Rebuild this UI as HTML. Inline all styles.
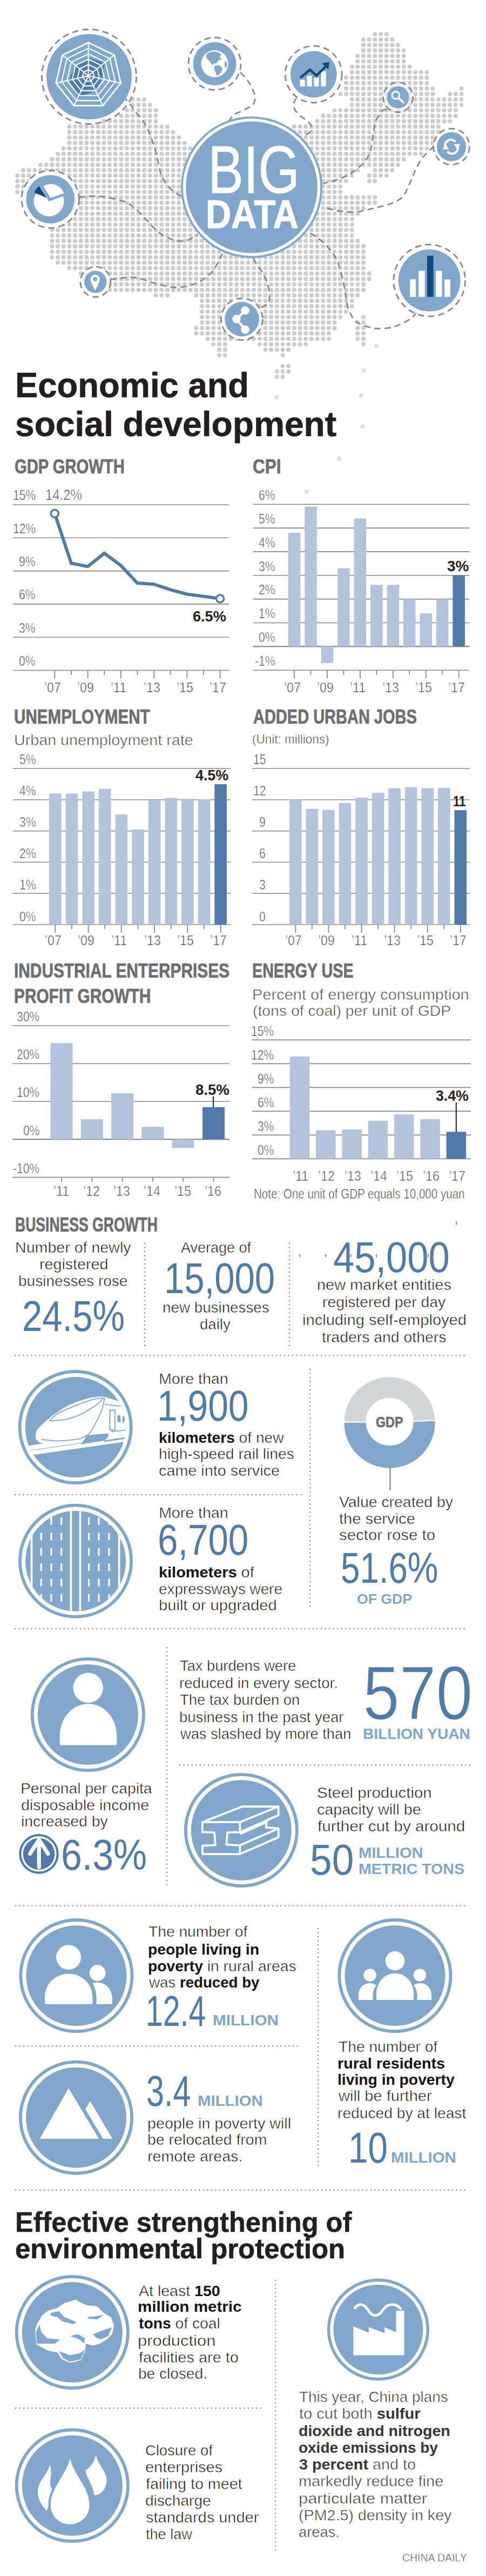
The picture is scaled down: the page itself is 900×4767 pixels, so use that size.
<!DOCTYPE html>
<html><head><meta charset="utf-8"><title>Big Data</title>
<style>
html,body{margin:0;padding:0;background:#fff}
body{width:900px;height:4767px;position:relative;overflow:hidden;font-family:"Liberation Sans",sans-serif}
svg{position:absolute;left:0;top:0}
.t{position:absolute;white-space:nowrap;line-height:1;transform-origin:0 0}
.t b{font-weight:700;-webkit-text-stroke:0 transparent}
</style></head><body>
<svg width="900" height="4767" viewBox="0 0 900 4767">
<path d="M694.4 63.1h21.42M673.0 73.2h53.46M673.0 83.2h64.14M673.0 93.3h74.82M662.3 103.4h85.50M662.3 113.4h85.50M651.6 123.5h106.86M651.6 133.6h138.90M641.0 143.7h149.58M641.0 153.7h149.58M641.0 163.8h160.26M854.6 163.8h0.06M630.3 173.9h170.94M833.2 173.9h21.42M245.8 183.9h21.42M651.6 183.9h202.98M245.8 194.0h32.10M651.6 194.0h202.98M235.1 204.1h53.46M619.6 204.1h224.34M224.4 214.2h64.14M598.2 214.2h245.70M192.4 224.2h96.18M587.6 224.2h245.70M128.3 234.3h181.62M544.8 234.3h267.06M128.3 244.4h192.30M544.8 244.4h267.06M128.3 254.4h202.98M544.8 254.4h256.38M128.3 264.5h213.66M544.8 264.5h256.38M117.6 274.6h235.02M544.8 274.6h245.70M107.0 284.6h288.42M544.8 284.6h235.02M96.3 294.7h341.82M544.8 294.7h202.98M74.9 304.8h662.22M42.9 314.9h619.50M694.4 314.9h32.10M32.2 324.9h619.50M683.7 324.9h32.10M32.2 335.0h608.82M683.7 335.0h10.74M32.2 345.1h598.14M32.2 355.1h598.14M96.3 365.2h598.14M96.3 375.3h598.14M96.3 385.3h576.78M96.3 395.4h566.10M96.3 405.5h555.42M96.3 415.6h555.42M96.3 425.6h555.42M96.3 435.7h555.42M96.3 445.8h566.10M96.3 455.8h576.78M96.3 465.9h576.78M96.3 476.0h576.78M107.0 486.0h566.10M128.3 496.1h544.74M149.7 506.2h534.06M203.1 516.2h480.66M203.1 526.3h469.98M203.1 536.4h469.98M288.5 546.5h21.42M363.3 546.5h299.10M374.0 556.5h277.74M374.0 566.6h277.74M374.0 576.7h267.06M374.0 586.7h256.38M673.0 586.7h0.06M374.0 596.8h245.70M662.3 596.8h10.74M363.3 606.9h256.38M662.3 606.9h10.74M363.3 617.0h245.70M662.3 617.0h10.74M384.6 627.0h224.34M662.3 627.0h10.74M395.3 637.1h21.42M480.8 637.1h85.50M673.0 637.1h0.06M406.0 647.2h10.74M491.4 647.2h42.78M406.0 657.2h10.74M523.5 657.2h0.06M523.5 677.4h10.74M512.8 687.4h21.42M512.8 697.5h10.74" fill="none" stroke="#cbcbce" stroke-width="7.9" stroke-linecap="round" stroke-dasharray="0.01 10.670"/>
<circle cx="697.0" cy="640.0" r="4" fill="#dedee0"/>
<circle cx="673.6" cy="685.7" r="4" fill="#dedee0"/>
<circle cx="668.6" cy="731.6" r="4" fill="#dedee0"/>
<circle cx="512.0" cy="735.0" r="4" fill="#dedee0"/>
<circle cx="671.6" cy="789.4" r="4" fill="#dedee0"/>
<circle cx="628.0" cy="848.6" r="4" fill="#dedee0"/>
<circle cx="568.0" cy="910.0" r="4" fill="#dedee0"/>
<circle cx="628.4" cy="849.5" r="4" fill="#dedee0"/>
<circle cx="567.7" cy="910.0" r="4" fill="#dedee0"/>
<path d="M228.0 178.0C230.0 180.3 235.8 186.8 240.0 192.0C244.2 197.2 248.3 202.8 253.0 209.0C257.7 215.2 263.8 222.2 268.0 229.0C272.2 235.8 274.7 241.7 278.0 250.0C281.3 258.3 285.5 270.5 288.0 279.0C290.5 287.5 291.3 293.8 293.0 301.0C294.7 308.2 295.5 315.5 298.0 322.0C300.5 328.5 304.0 334.5 308.0 340.0C312.0 345.5 317.0 351.0 322.0 355.0C327.0 359.0 335.3 362.5 338.0 364.0" fill="none" stroke="#86888b" stroke-width="2.8" stroke-dasharray="11.5 7.5"/>
<path d="M146.0 365.0C150.0 364.7 162.5 363.2 170.0 363.0C177.5 362.8 181.0 362.3 191.0 364.0C201.0 365.7 220.5 369.7 230.0 373.0C239.5 376.3 241.8 379.2 248.0 384.0C254.2 388.8 261.5 396.3 267.0 402.0C272.5 407.7 275.8 412.8 281.0 418.0C286.2 423.2 292.2 429.0 298.0 433.0C303.8 437.0 310.7 439.8 316.0 442.0C321.3 444.2 324.7 445.7 330.0 446.0C335.3 446.3 342.0 445.8 348.0 444.0C354.0 442.2 363.0 436.5 366.0 435.0" fill="none" stroke="#86888b" stroke-width="2.8" stroke-dasharray="11.5 7.5"/>
<path d="M204.0 517.0C208.3 516.5 221.8 514.5 230.0 514.0C238.2 513.5 243.0 512.2 253.0 514.0C263.0 515.8 277.7 522.0 290.0 525.0C302.3 528.0 314.7 532.2 327.0 532.0C339.3 531.8 353.7 528.2 364.0 524.0C374.3 519.8 382.7 512.8 389.0 507.0C395.3 501.2 398.2 495.2 402.0 489.0C405.8 482.8 410.3 473.2 412.0 470.0" fill="none" stroke="#86888b" stroke-width="2.8" stroke-dasharray="11.5 7.5"/>
<path d="M469.0 478.0C470.2 480.0 473.5 486.2 476.0 490.0C478.5 493.8 481.0 495.8 484.0 501.0C487.0 506.2 491.5 514.0 494.0 521.0C496.5 528.0 498.5 536.5 499.0 543.0C499.5 549.5 499.5 555.7 497.0 560.0C494.5 564.3 486.2 567.5 484.0 569.0" fill="none" stroke="#86888b" stroke-width="2.8" stroke-dasharray="11.5 7.5"/>
<path d="M445.0 134.0C447.2 136.3 454.0 142.3 458.0 148.0C462.0 153.7 466.7 162.7 469.0 168.0C471.3 173.3 472.0 175.8 472.0 180.0C472.0 184.2 472.2 189.2 469.0 193.0C465.8 196.8 458.8 199.8 453.0 203.0C447.2 206.2 438.8 208.5 434.0 212.0C429.2 215.5 425.7 222.0 424.0 224.0" fill="none" stroke="#86888b" stroke-width="2.8" stroke-dasharray="11.5 7.5"/>
<path d="M549.0 181.0C548.2 182.8 544.5 188.3 544.0 192.0C543.5 195.7 544.0 199.3 546.0 203.0C548.0 206.7 552.2 210.5 556.0 214.0C559.8 217.5 565.7 221.0 569.0 224.0C572.3 227.0 574.8 229.0 576.0 232.0C577.2 235.0 577.3 239.2 576.0 242.0C574.7 244.8 570.3 247.2 568.0 249.0C565.7 250.8 563.0 252.3 562.0 253.0" fill="none" stroke="#86888b" stroke-width="2.8" stroke-dasharray="11.5 7.5"/>
<path d="M716.0 203.0C714.7 203.3 711.3 201.5 708.0 205.0C704.7 208.5 698.8 216.7 696.0 224.0C693.2 231.3 692.7 239.8 691.0 249.0C689.3 258.2 688.5 270.8 686.0 279.0C683.5 287.2 681.3 291.5 676.0 298.0C670.7 304.5 661.8 312.5 654.0 318.0C646.2 323.5 637.3 327.7 629.0 331.0C620.7 334.3 609.2 336.5 604.0 338.0C598.8 339.5 599.0 339.7 598.0 340.0" fill="none" stroke="#86888b" stroke-width="2.8" stroke-dasharray="11.5 7.5"/>
<path d="M804.0 270.0C803.2 270.8 802.5 271.5 799.0 275.0C795.5 278.5 787.7 285.0 783.0 291.0C778.3 297.0 774.0 305.3 771.0 311.0C768.0 316.7 767.3 319.7 765.0 325.0C762.7 330.3 760.3 336.3 757.0 343.0C753.7 349.7 750.7 359.3 745.0 365.0C739.3 370.7 731.7 373.7 723.0 377.0C714.3 380.3 703.7 382.5 693.0 385.0C682.3 387.5 670.5 391.2 659.0 392.0C647.5 392.8 633.8 391.5 624.0 390.0C614.2 388.5 604.0 384.2 600.0 383.0" fill="none" stroke="#86888b" stroke-width="2.8" stroke-dasharray="11.5 7.5"/>
<path d="M772.0 578.0C769.5 580.3 764.3 587.5 757.0 592.0C749.7 596.5 737.8 602.3 728.0 605.0C718.2 607.7 707.2 608.5 698.0 608.0C688.8 607.5 680.0 604.7 673.0 602.0C666.0 599.3 660.8 597.7 656.0 592.0C651.2 586.3 646.8 577.0 644.0 568.0C641.2 559.0 641.2 548.8 639.0 538.0C636.8 527.2 634.0 513.3 631.0 503.0C628.0 492.7 625.5 484.2 621.0 476.0C616.5 467.8 610.2 460.5 604.0 454.0C597.8 447.5 589.5 441.0 584.0 437.0C578.5 433.0 573.2 431.2 571.0 430.0" fill="none" stroke="#86888b" stroke-width="2.8" stroke-dasharray="11.5 7.5"/>
<circle cx="466" cy="346.6" r="129.1" fill="#fff" stroke="#80a6cc" stroke-width="3.8"/>
<circle cx="466" cy="346.6" r="121.8" fill="#80a6cc"/>
<circle cx="165.0" cy="142.0" r="87.5" fill="#fff" fill-opacity="0.00" stroke="#86888b" stroke-width="2.8" stroke-dasharray="11.5 7.5"/>
<circle cx="165.0" cy="142.0" r="79.0" fill="#80a6cc"/>
<polygon points="163.7,106.4 193.5,116.5 188.8,145.9 177.0,167.9 144.5,180.0 127.8,148.4 139.7,121.1" fill="#4f7aaa"/>
<polygon points="163.7,78.8 211.7,101.9 223.6,153.9 190.3,195.5 137.1,195.5 103.8,153.9 115.7,101.9" fill="none" stroke="#fff" stroke-width="2.8"/>
<polygon points="163.7,89.2 203.5,108.4 213.4,151.5 185.8,186.1 141.6,186.1 114.0,151.5 123.9,108.4" fill="none" stroke="#fff" stroke-width="2.1"/>
<polygon points="163.7,99.7 195.4,114.9 203.2,149.2 181.3,176.7 146.1,176.7 124.2,149.2 132.0,114.9" fill="none" stroke="#fff" stroke-width="2.1"/>
<polygon points="163.7,109.5 187.7,121.1 193.6,147.0 177.0,167.9 150.4,167.9 133.8,147.0 139.7,121.1" fill="none" stroke="#fff" stroke-width="2.1"/>
<polygon points="163.7,119.3 180.0,127.2 184.1,144.8 172.8,159.0 154.6,159.0 143.3,144.8 147.4,127.2" fill="none" stroke="#fff" stroke-width="2.1"/>
<polygon points="163.7,129.1 172.3,133.3 174.5,142.7 168.5,150.2 158.9,150.2 152.9,142.7 155.1,133.3" fill="none" stroke="#fff" stroke-width="2.1"/>
<line x1="163.7" y1="140.2" x2="163.7" y2="78.8" stroke="#fff" stroke-width="2.1"/>
<line x1="163.7" y1="140.2" x2="211.7" y2="101.9" stroke="#fff" stroke-width="2.1"/>
<line x1="163.7" y1="140.2" x2="223.6" y2="153.9" stroke="#fff" stroke-width="2.1"/>
<line x1="163.7" y1="140.2" x2="190.3" y2="195.5" stroke="#fff" stroke-width="2.1"/>
<line x1="163.7" y1="140.2" x2="137.1" y2="195.5" stroke="#fff" stroke-width="2.1"/>
<line x1="163.7" y1="140.2" x2="103.8" y2="153.9" stroke="#fff" stroke-width="2.1"/>
<line x1="163.7" y1="140.2" x2="115.7" y2="101.9" stroke="#fff" stroke-width="2.1"/>
<circle cx="397.5" cy="118.0" r="48.5" fill="#fff" fill-opacity="0.00" stroke="#86888b" stroke-width="2.8" stroke-dasharray="11.5 7.5"/>
<circle cx="397.5" cy="118.0" r="40.0" fill="#80a6cc"/>
<circle cx="397.5" cy="118" r="25" fill="#fff"/>
<polygon points="381.1,102.6 385.6,98.1 391.1,95.9 398.5,95.2 404.1,96.7 410.0,101.1 406.7,104.1 408.5,107.8 410.7,111.5 405.9,110.7 402.6,113.7 400.4,118.1 396.7,116.7 393.7,120.4 390.0,115.9 385.6,111.1 382.6,107.4" fill="#80a6cc"/>
<polygon points="396.7,122.6 402.6,120.4 407.8,121.9 412.2,126.3 410.0,133.0 405.6,137.4 401.9,141.1 399.6,134.4 397.0,128.5" fill="#80a6cc"/>
<polygon points="416.7,112.2 420.4,115.9 420.0,122.6 417.4,125.6 415.6,120.4" fill="#80a6cc"/>
<circle cx="580.7" cy="137.5" r="52.5" fill="#fff" fill-opacity="0.90" stroke="#86888b" stroke-width="2.8" stroke-dasharray="11.5 7.5"/>
<circle cx="580.7" cy="137.5" r="43.0" fill="#80a6cc"/>
<rect x="555.5" y="147.5" width="9.0" height="12.5" fill="#fff"/>
<rect x="568.5" y="140.0" width="9.0" height="20.0" fill="#fff"/>
<rect x="581.5" y="144.0" width="9.0" height="16.0" fill="#fff"/>
<rect x="594.5" y="132.0" width="9.2" height="28.0" fill="#fff"/>
<path d="M556 144L574 129L586 140L603 123" fill="none" stroke="#0f4a7f" stroke-width="4.5"/>
<path d="M596 117L610 115L608 129z" fill="#0f4a7f"/>
<circle cx="737.0" cy="180.0" r="27.5" fill="#fff" fill-opacity="0.50" stroke="#86888b" stroke-width="2.8" stroke-dasharray="11.5 7.5"/>
<circle cx="737.0" cy="180.0" r="20.6" fill="#80a6cc"/>
<circle cx="732.8" cy="176.3" r="6.8" fill="none" stroke="#fff" stroke-width="3"/>
<line x1="738" y1="181.5" x2="747" y2="189.5" stroke="#fff" stroke-width="4" stroke-linecap="round"/>
<circle cx="836.0" cy="271.4" r="33.4" fill="#fff" fill-opacity="0.80" stroke="#86888b" stroke-width="2.8" stroke-dasharray="11.5 7.5"/>
<circle cx="836.0" cy="271.4" r="27.0" fill="#80a6cc"/>
<path d="M825.5 275a11 11 0 0 1 18-12.5" fill="none" stroke="#fff" stroke-width="4"/>
<path d="M846.5 268a11 11 0 0 1-18 12.5" fill="none" stroke="#fff" stroke-width="4"/>
<path d="M819.5 276.5l6-9.5 6 9.5z" fill="#fff"/>
<path d="M852.5 266.5l-6 9.5-6-9.5z" fill="#fff"/>
<circle cx="93.3" cy="368.7" r="53.2" fill="#fff" fill-opacity="0.92" stroke="#86888b" stroke-width="2.8" stroke-dasharray="11.5 7.5"/>
<circle cx="93.3" cy="368.7" r="44.8" fill="#80a6cc"/>
<path d="M90.5 372.5L116.9 363.2A28 28 0 1 1 76.4 348.3z" fill="#fff"/>
<path d="M93.5 366.5L80.3 344.5A26 26 0 0 1 118.6 357.6z" fill="#fff"/>
<path d="M86.5 366L63.5 356.5A25 25 0 0 1 72.5 344.5z" fill="#0f4a7f"/>
<circle cx="176.8" cy="521.6" r="28.0" fill="#fff" fill-opacity="0.70" stroke="#86888b" stroke-width="2.8" stroke-dasharray="11.5 7.5"/>
<circle cx="176.8" cy="521.6" r="20.7" fill="#80a6cc"/>
<path d="M176.2 537.5C172 529 167.6 522 167.6 516.8a8.6 8.6 0 0 1 17.2 0C184.8 522 180.4 529 176.2 537.5z" fill="#fff"/>
<circle cx="176.2" cy="516.6" r="4" fill="#80a6cc"/>
<circle cx="448.0" cy="590.6" r="38.5" fill="#fff" fill-opacity="0.92" stroke="#86888b" stroke-width="2.8" stroke-dasharray="11.5 7.5"/>
<circle cx="448.0" cy="590.6" r="31.8" fill="#80a6cc"/>
<path d="M454 574.6L438 590.4L454 610" fill="none" stroke="#fff" stroke-width="4"/>
<circle cx="454.0" cy="574.6" r="7.8" fill="#fff"/>
<circle cx="438.0" cy="590.4" r="7.8" fill="#fff"/>
<circle cx="454.0" cy="610.0" r="7.8" fill="#fff"/>
<circle cx="795.2" cy="519.0" r="66.3" fill="#fff" fill-opacity="0.55" stroke="#86888b" stroke-width="2.8" stroke-dasharray="11.5 7.5"/>
<circle cx="795.2" cy="519.0" r="57.4" fill="#80a6cc"/>
<rect x="759.3" y="516.7" width="10.7" height="32.6" fill="#fff"/>
<rect x="775.2" y="501.0" width="11.5" height="48.3" fill="#fff"/>
<rect x="791.0" y="473.3" width="11.6" height="76.0" fill="#0f4a7f"/>
<rect x="807.0" y="501.0" width="11.5" height="48.3" fill="#fff"/>
<rect x="823.0" y="517.0" width="11.0" height="32.3" fill="#fff"/>
<line x1="23.8" y1="934.0" x2="424.0" y2="934.0" stroke="#85878a" stroke-width="1.6"/>
<line x1="23.8" y1="995.3" x2="424.0" y2="995.3" stroke="#85878a" stroke-width="1.6"/>
<line x1="23.8" y1="1056.6" x2="424.0" y2="1056.6" stroke="#85878a" stroke-width="1.6"/>
<line x1="23.8" y1="1117.9" x2="424.0" y2="1117.9" stroke="#85878a" stroke-width="1.6"/>
<line x1="23.8" y1="1179.2" x2="424.0" y2="1179.2" stroke="#85878a" stroke-width="1.6"/>
<line x1="23.8" y1="1240.5" x2="424.0" y2="1240.5" stroke="#85878a" stroke-width="1.6"/>
<polyline points="101.3,950.3 131.9,1042.3 162.6,1048.4 193.2,1023.9 223.8,1046.4 254.4,1079.1 285.1,1081.1 315.7,1091.3 346.3,1099.5 377.0,1103.6 407.6,1107.7" fill="none" stroke="#4f7aaa" stroke-width="6" stroke-linejoin="miter"/>
<circle cx="101.3" cy="950.3" r="7" fill="#fff" stroke="#4f7aaa" stroke-width="3.5"/>
<circle cx="407.6" cy="1107.7" r="7" fill="#fff" stroke="#4f7aaa" stroke-width="3.5"/>
<line x1="101.3" y1="1240.5" x2="101.3" y2="1255.5" stroke="#85878a" stroke-width="1.8"/>
<line x1="131.9" y1="1240.5" x2="131.9" y2="1249.0" stroke="#85878a" stroke-width="1.8"/>
<line x1="162.6" y1="1240.5" x2="162.6" y2="1255.5" stroke="#85878a" stroke-width="1.8"/>
<line x1="193.2" y1="1240.5" x2="193.2" y2="1249.0" stroke="#85878a" stroke-width="1.8"/>
<line x1="223.8" y1="1240.5" x2="223.8" y2="1255.5" stroke="#85878a" stroke-width="1.8"/>
<line x1="254.4" y1="1240.5" x2="254.4" y2="1249.0" stroke="#85878a" stroke-width="1.8"/>
<line x1="285.1" y1="1240.5" x2="285.1" y2="1255.5" stroke="#85878a" stroke-width="1.8"/>
<line x1="315.7" y1="1240.5" x2="315.7" y2="1249.0" stroke="#85878a" stroke-width="1.8"/>
<line x1="346.3" y1="1240.5" x2="346.3" y2="1255.5" stroke="#85878a" stroke-width="1.8"/>
<line x1="377.0" y1="1240.5" x2="377.0" y2="1249.0" stroke="#85878a" stroke-width="1.8"/>
<line x1="407.6" y1="1240.5" x2="407.6" y2="1255.5" stroke="#85878a" stroke-width="1.8"/>
<line x1="468.5" y1="933.2" x2="869.5" y2="933.2" stroke="#85878a" stroke-width="1.6"/>
<line x1="468.5" y1="977.1" x2="869.5" y2="977.1" stroke="#85878a" stroke-width="1.6"/>
<line x1="468.5" y1="1020.9" x2="869.5" y2="1020.9" stroke="#85878a" stroke-width="1.6"/>
<line x1="468.5" y1="1064.8" x2="869.5" y2="1064.8" stroke="#85878a" stroke-width="1.6"/>
<line x1="468.5" y1="1108.6" x2="869.5" y2="1108.6" stroke="#85878a" stroke-width="1.6"/>
<line x1="468.5" y1="1152.5" x2="869.5" y2="1152.5" stroke="#85878a" stroke-width="1.6"/>
<line x1="468.5" y1="1196.3" x2="869.5" y2="1196.3" stroke="#85878a" stroke-width="2.2"/>
<line x1="468.5" y1="1240.2" x2="869.5" y2="1240.2" stroke="#85878a" stroke-width="1.6"/>
<rect x="533.8" y="985.8" width="22.5" height="210.5" fill="#b3c3dc"/>
<rect x="564.3" y="937.6" width="22.5" height="258.7" fill="#b3c3dc"/>
<rect x="594.7" y="1196.3" width="22.5" height="30.7" fill="#b3c3dc"/>
<rect x="625.2" y="1051.6" width="22.5" height="144.7" fill="#b3c3dc"/>
<rect x="655.6" y="959.5" width="22.5" height="236.8" fill="#b3c3dc"/>
<rect x="686.1" y="1082.3" width="22.5" height="114.0" fill="#b3c3dc"/>
<rect x="716.6" y="1082.3" width="22.5" height="114.0" fill="#b3c3dc"/>
<rect x="747.0" y="1108.6" width="22.5" height="87.7" fill="#b3c3dc"/>
<rect x="777.5" y="1134.9" width="22.5" height="61.4" fill="#b3c3dc"/>
<rect x="807.9" y="1108.6" width="22.5" height="87.7" fill="#b3c3dc"/>
<rect x="838.4" y="1064.8" width="22.5" height="131.6" fill="#4f7aaa"/>
<line x1="545.0" y1="1240.2" x2="545.0" y2="1255.2" stroke="#85878a" stroke-width="1.8"/>
<line x1="575.5" y1="1240.2" x2="575.5" y2="1248.7" stroke="#85878a" stroke-width="1.8"/>
<line x1="606.0" y1="1240.2" x2="606.0" y2="1255.2" stroke="#85878a" stroke-width="1.8"/>
<line x1="636.4" y1="1240.2" x2="636.4" y2="1248.7" stroke="#85878a" stroke-width="1.8"/>
<line x1="666.9" y1="1240.2" x2="666.9" y2="1255.2" stroke="#85878a" stroke-width="1.8"/>
<line x1="697.3" y1="1240.2" x2="697.3" y2="1248.7" stroke="#85878a" stroke-width="1.8"/>
<line x1="727.8" y1="1240.2" x2="727.8" y2="1255.2" stroke="#85878a" stroke-width="1.8"/>
<line x1="758.3" y1="1240.2" x2="758.3" y2="1248.7" stroke="#85878a" stroke-width="1.8"/>
<line x1="788.7" y1="1240.2" x2="788.7" y2="1255.2" stroke="#85878a" stroke-width="1.8"/>
<line x1="819.2" y1="1240.2" x2="819.2" y2="1248.7" stroke="#85878a" stroke-width="1.8"/>
<line x1="849.6" y1="1240.2" x2="849.6" y2="1255.2" stroke="#85878a" stroke-width="1.8"/>
<line x1="23.5" y1="1422.3" x2="427.0" y2="1422.3" stroke="#85878a" stroke-width="1.6"/>
<line x1="23.5" y1="1480.0" x2="427.0" y2="1480.0" stroke="#85878a" stroke-width="1.6"/>
<line x1="23.5" y1="1537.8" x2="427.0" y2="1537.8" stroke="#85878a" stroke-width="1.6"/>
<line x1="23.5" y1="1595.5" x2="427.0" y2="1595.5" stroke="#85878a" stroke-width="1.6"/>
<line x1="23.5" y1="1653.3" x2="427.0" y2="1653.3" stroke="#85878a" stroke-width="1.6"/>
<line x1="23.5" y1="1711.0" x2="427.0" y2="1711.0" stroke="#85878a" stroke-width="1.6"/>
<rect x="91.0" y="1468.5" width="22.6" height="242.6" fill="#b3c3dc"/>
<rect x="121.6" y="1468.5" width="22.6" height="242.6" fill="#b3c3dc"/>
<rect x="152.3" y="1464.5" width="22.6" height="246.6" fill="#b3c3dc"/>
<rect x="182.9" y="1459.8" width="22.6" height="251.2" fill="#b3c3dc"/>
<rect x="213.5" y="1507.2" width="22.6" height="203.9" fill="#b3c3dc"/>
<rect x="244.2" y="1534.9" width="22.6" height="176.1" fill="#b3c3dc"/>
<rect x="274.8" y="1481.2" width="22.6" height="229.8" fill="#b3c3dc"/>
<rect x="305.4" y="1476.6" width="22.6" height="234.5" fill="#b3c3dc"/>
<rect x="336.0" y="1478.3" width="22.6" height="232.7" fill="#b3c3dc"/>
<rect x="366.7" y="1478.9" width="22.6" height="232.2" fill="#b3c3dc"/>
<rect x="397.3" y="1451.2" width="22.6" height="259.9" fill="#4f7aaa"/>
<line x1="102.3" y1="1711.0" x2="102.3" y2="1726.0" stroke="#85878a" stroke-width="1.8"/>
<line x1="132.9" y1="1711.0" x2="132.9" y2="1719.5" stroke="#85878a" stroke-width="1.8"/>
<line x1="163.6" y1="1711.0" x2="163.6" y2="1726.0" stroke="#85878a" stroke-width="1.8"/>
<line x1="194.2" y1="1711.0" x2="194.2" y2="1719.5" stroke="#85878a" stroke-width="1.8"/>
<line x1="224.8" y1="1711.0" x2="224.8" y2="1726.0" stroke="#85878a" stroke-width="1.8"/>
<line x1="255.4" y1="1711.0" x2="255.4" y2="1719.5" stroke="#85878a" stroke-width="1.8"/>
<line x1="286.1" y1="1711.0" x2="286.1" y2="1726.0" stroke="#85878a" stroke-width="1.8"/>
<line x1="316.7" y1="1711.0" x2="316.7" y2="1719.5" stroke="#85878a" stroke-width="1.8"/>
<line x1="347.3" y1="1711.0" x2="347.3" y2="1726.0" stroke="#85878a" stroke-width="1.8"/>
<line x1="378.0" y1="1711.0" x2="378.0" y2="1719.5" stroke="#85878a" stroke-width="1.8"/>
<line x1="408.6" y1="1711.0" x2="408.6" y2="1726.0" stroke="#85878a" stroke-width="1.8"/>
<line x1="466.5" y1="1422.3" x2="870.0" y2="1422.3" stroke="#85878a" stroke-width="1.6"/>
<line x1="466.5" y1="1480.0" x2="870.0" y2="1480.0" stroke="#85878a" stroke-width="1.6"/>
<line x1="466.5" y1="1537.8" x2="870.0" y2="1537.8" stroke="#85878a" stroke-width="1.6"/>
<line x1="466.5" y1="1595.5" x2="870.0" y2="1595.5" stroke="#85878a" stroke-width="1.6"/>
<line x1="466.5" y1="1653.3" x2="870.0" y2="1653.3" stroke="#85878a" stroke-width="1.6"/>
<line x1="466.5" y1="1711.0" x2="870.0" y2="1711.0" stroke="#85878a" stroke-width="1.6"/>
<rect x="536.0" y="1479.3" width="22.6" height="231.8" fill="#b3c3dc"/>
<rect x="566.5" y="1496.8" width="22.6" height="214.3" fill="#b3c3dc"/>
<rect x="597.1" y="1498.9" width="22.6" height="212.1" fill="#b3c3dc"/>
<rect x="627.6" y="1486.2" width="22.6" height="224.8" fill="#b3c3dc"/>
<rect x="658.2" y="1476.0" width="22.6" height="235.0" fill="#b3c3dc"/>
<rect x="688.8" y="1467.3" width="22.6" height="243.7" fill="#b3c3dc"/>
<rect x="719.3" y="1458.9" width="22.6" height="252.2" fill="#b3c3dc"/>
<rect x="749.9" y="1456.6" width="22.6" height="254.5" fill="#b3c3dc"/>
<rect x="780.4" y="1458.5" width="22.6" height="252.6" fill="#b3c3dc"/>
<rect x="811.0" y="1458.1" width="22.6" height="252.9" fill="#b3c3dc"/>
<rect x="841.5" y="1499.3" width="22.6" height="211.8" fill="#4f7aaa"/>
<line x1="547.3" y1="1711.0" x2="547.3" y2="1726.0" stroke="#85878a" stroke-width="1.8"/>
<line x1="577.8" y1="1711.0" x2="577.8" y2="1719.5" stroke="#85878a" stroke-width="1.8"/>
<line x1="608.4" y1="1711.0" x2="608.4" y2="1726.0" stroke="#85878a" stroke-width="1.8"/>
<line x1="638.9" y1="1711.0" x2="638.9" y2="1719.5" stroke="#85878a" stroke-width="1.8"/>
<line x1="669.5" y1="1711.0" x2="669.5" y2="1726.0" stroke="#85878a" stroke-width="1.8"/>
<line x1="700.0" y1="1711.0" x2="700.0" y2="1719.5" stroke="#85878a" stroke-width="1.8"/>
<line x1="730.6" y1="1711.0" x2="730.6" y2="1726.0" stroke="#85878a" stroke-width="1.8"/>
<line x1="761.1" y1="1711.0" x2="761.1" y2="1719.5" stroke="#85878a" stroke-width="1.8"/>
<line x1="791.7" y1="1711.0" x2="791.7" y2="1726.0" stroke="#85878a" stroke-width="1.8"/>
<line x1="822.2" y1="1711.0" x2="822.2" y2="1719.5" stroke="#85878a" stroke-width="1.8"/>
<line x1="852.8" y1="1711.0" x2="852.8" y2="1726.0" stroke="#85878a" stroke-width="1.8"/>
<line x1="23.2" y1="1898.0" x2="425.0" y2="1898.0" stroke="#85878a" stroke-width="1.6"/>
<line x1="23.2" y1="1968.2" x2="425.0" y2="1968.2" stroke="#85878a" stroke-width="1.6"/>
<line x1="23.2" y1="2038.3" x2="425.0" y2="2038.3" stroke="#85878a" stroke-width="1.6"/>
<line x1="23.2" y1="2108.4" x2="425.0" y2="2108.4" stroke="#85878a" stroke-width="2.2"/>
<line x1="23.2" y1="2178.6" x2="425.0" y2="2178.6" stroke="#85878a" stroke-width="1.6"/>
<rect x="93.5" y="1930.3" width="41.0" height="178.2" fill="#b3c3dc"/>
<line x1="114.0" y1="2178.6" x2="114.0" y2="2186.6" stroke="#85878a" stroke-width="1.8"/>
<rect x="149.8" y="2071.3" width="41.0" height="37.2" fill="#b3c3dc"/>
<line x1="170.3" y1="2178.6" x2="170.3" y2="2186.6" stroke="#85878a" stroke-width="1.8"/>
<rect x="206.1" y="2022.9" width="41.0" height="85.6" fill="#b3c3dc"/>
<line x1="226.6" y1="2178.6" x2="226.6" y2="2186.6" stroke="#85878a" stroke-width="1.8"/>
<rect x="262.4" y="2085.3" width="41.0" height="23.1" fill="#b3c3dc"/>
<line x1="282.9" y1="2178.6" x2="282.9" y2="2186.6" stroke="#85878a" stroke-width="1.8"/>
<rect x="318.7" y="2108.4" width="41.0" height="16.1" fill="#b3c3dc"/>
<line x1="339.2" y1="2178.6" x2="339.2" y2="2186.6" stroke="#85878a" stroke-width="1.8"/>
<rect x="375.0" y="2048.8" width="41.0" height="59.6" fill="#4f7aaa"/>
<line x1="395.5" y1="2178.6" x2="395.5" y2="2186.6" stroke="#85878a" stroke-width="1.8"/>
<line x1="395.0" y1="2029.0" x2="395.0" y2="2049.0" stroke="#231f20" stroke-width="2.0"/>
<line x1="466.5" y1="1924.4" x2="872.0" y2="1924.4" stroke="#85878a" stroke-width="1.6"/>
<line x1="466.5" y1="1968.4" x2="872.0" y2="1968.4" stroke="#85878a" stroke-width="1.6"/>
<line x1="466.5" y1="2012.4" x2="872.0" y2="2012.4" stroke="#85878a" stroke-width="1.6"/>
<line x1="466.5" y1="2056.4" x2="872.0" y2="2056.4" stroke="#85878a" stroke-width="1.6"/>
<line x1="466.5" y1="2100.4" x2="872.0" y2="2100.4" stroke="#85878a" stroke-width="1.6"/>
<line x1="466.5" y1="2144.4" x2="872.0" y2="2144.4" stroke="#85878a" stroke-width="1.6"/>
<rect x="536.8" y="1955.2" width="36.4" height="189.2" fill="#b3c3dc"/>
<rect x="585.1" y="2091.6" width="36.4" height="52.8" fill="#b3c3dc"/>
<rect x="633.4" y="2090.1" width="36.4" height="54.3" fill="#b3c3dc"/>
<rect x="681.7" y="2074.0" width="36.4" height="70.4" fill="#b3c3dc"/>
<rect x="730.0" y="2062.3" width="36.4" height="82.1" fill="#b3c3dc"/>
<rect x="778.3" y="2071.1" width="36.4" height="73.3" fill="#b3c3dc"/>
<rect x="826.6" y="2094.5" width="36.4" height="49.9" fill="#4f7aaa"/>
<line x1="844.8" y1="2040.0" x2="844.8" y2="2095.0" stroke="#231f20" stroke-width="2.0"/>
<line x1="268.0" y1="2301.0" x2="268.0" y2="2491.0" stroke="#77787b" stroke-width="2.3" stroke-linecap="round" stroke-dasharray="0.01 7.55"/>
<line x1="536.0" y1="2301.0" x2="536.0" y2="2491.0" stroke="#77787b" stroke-width="2.3" stroke-linecap="round" stroke-dasharray="0.01 7.55"/>
<rect x="553.8" y="2320.5" width="2" height="6" fill="#8a8c8e"/>
<rect x="602.0" y="2320.5" width="2" height="6" fill="#8a8c8e"/>
<rect x="648.6" y="2320.5" width="2" height="6" fill="#8a8c8e"/>
<rect x="696.0" y="2320.5" width="2" height="6" fill="#8a8c8e"/>
<rect x="745.0" y="2320.5" width="2" height="6" fill="#8a8c8e"/>
<rect x="792.0" y="2320.5" width="2" height="6" fill="#8a8c8e"/>
<rect x="844" y="2260.5" width="2" height="6" fill="#8a8c8e"/>
<line x1="28.0" y1="2508.5" x2="866.0" y2="2508.5" stroke="#77787b" stroke-width="2.3" stroke-linecap="round" stroke-dasharray="0.01 7.55"/>
<circle cx="139.7" cy="2641.1" r="103.1" fill="#fff" stroke="#80a6cc" stroke-width="5.8"/>
<circle cx="139.7" cy="2641.1" r="93.0" fill="#80a6cc"/>
<clipPath id="ctrain"><circle cx="139.7" cy="2641.1" r="93"/></clipPath>
<g clip-path="url(#ctrain)">
<polygon points="30,2678.5 90,2669.8 90,2690 30,2697" fill="#fff"/>
<path d="M65.9 2658.5C66.4 2656.5 65.6 2651.0 68.5 2646.4C71.4 2641.9 77.2 2636.7 83.2 2631.3C89.3 2625.9 96.9 2619.4 104.8 2614.0C112.7 2608.6 122.1 2603.0 130.8 2598.9C139.4 2594.8 148.0 2591.8 156.7 2589.4C165.3 2587.0 176.4 2585.4 182.6 2584.6C188.8 2583.8 192.0 2584.6 193.8 2584.6L243.1 2601.1L243.1 2689.6L87.5 2689.6L83.2 2672.4L72.8 2668.9L66.8 2663.7z" fill="#fff"/>
<path d="M91.9 2629.6C94.0 2627.5 99.1 2620.9 104.8 2617.0C110.6 2613.2 118.5 2610.1 126.4 2606.7C134.4 2603.2 144.4 2599.2 152.4 2596.3C160.3 2593.4 167.5 2591.0 174.0 2589.4C180.4 2587.8 188.4 2587.2 191.3 2586.8" fill="none" stroke="#80a6cc" stroke-width="1.8"/>
<path d="M191.3 2586.8C190.2 2588.1 188.4 2591.4 184.8 2594.6C181.2 2597.7 175.8 2601.9 169.6 2605.8C163.5 2609.7 156.0 2614.5 148.0 2617.9C140.1 2621.4 131.5 2624.6 122.1 2626.6C112.7 2628.5 96.9 2629.1 91.9 2629.6" fill="none" stroke="#80a6cc" stroke-width="1.8"/>
<path d="M193.8 2585.1C193.1 2588.8 191.7 2599.8 189.1 2607.5C186.5 2615.2 181.7 2624.5 178.3 2631.3C174.9 2638.1 172.2 2643.8 168.8 2648.6C165.3 2653.4 159.4 2658.3 157.5 2660.3" fill="none" stroke="#80a6cc" stroke-width="1.8"/>
<path d="M76.7 2663.7C81.4 2664.1 95.5 2666.2 104.8 2666.3C114.2 2666.5 125.4 2665.3 132.9 2664.6C140.5 2663.9 145.8 2663.4 150.2 2662.0C154.6 2660.5 157.8 2656.9 159.3 2655.9" fill="none" stroke="#80a6cc" stroke-width="1.8"/>
<path d="M193.8 2598.9L234.5 2603.2" stroke="#80a6cc" stroke-width="1.8"/>
<path d="M206.4 2649.0L234.5 2646.4" stroke="#80a6cc" stroke-width="1.8"/>
<rect x="203.4" y="2609.7" width="9.5" height="36.5" fill="none" stroke="#80a6cc" stroke-width="2"/>
<rect x="217.2" y="2618.8" width="6" height="13" rx="2.5" fill="#80a6cc"/>
<rect x="226.7" y="2620.5" width="4" height="12" rx="2" fill="#80a6cc"/>
<polygon points="161.5,2656 201,2652.6 200,2660.5 193,2666 162.6,2670.7 149,2673 158,2661.7" fill="#80a6cc"/>
<path d="M193 2667L233 2661" stroke="#80a6cc" stroke-width="3"/>
<polygon points="30,2696.8 250,2665.2 250,2760 30,2760" fill="#80a6cc"/>
<path d="M40 2686.5L150 2670.6" stroke="#80a6cc" stroke-width="1"/>
</g>
<line x1="28.0" y1="2766.0" x2="558.0" y2="2766.0" stroke="#77787b" stroke-width="2.3" stroke-linecap="round" stroke-dasharray="0.01 7.55"/>
<circle cx="140.0" cy="2888.8" r="103.1" fill="#fff" stroke="#80a6cc" stroke-width="5.8"/>
<circle cx="140.0" cy="2888.8" r="93.0" fill="#80a6cc"/>
<clipPath id="croad"><circle cx="140" cy="2888.8" r="93"/></clipPath>
<g clip-path="url(#croad)">
<rect x="56.6" y="2780" width="3.7" height="215" fill="#fff"/>
<rect x="218.8" y="2780" width="3.7" height="215" fill="#fff"/>
<rect x="129.5" y="2780" width="3.7" height="215" fill="#fff"/>
<rect x="146.6" y="2780" width="3.7" height="215" fill="#fff"/>
<line x1="76.2" y1="2808" x2="76.2" y2="2975" stroke="#fff" stroke-width="3.2" stroke-dasharray="14 14.4"/>
<line x1="94.9" y1="2808" x2="94.9" y2="2975" stroke="#fff" stroke-width="3.2" stroke-dasharray="14 14.4"/>
<line x1="113.6" y1="2808" x2="113.6" y2="2975" stroke="#fff" stroke-width="3.2" stroke-dasharray="14 14.4"/>
<line x1="164.5" y1="2808" x2="164.5" y2="2975" stroke="#fff" stroke-width="3.2" stroke-dasharray="14 14.4"/>
<line x1="183.0" y1="2808" x2="183.0" y2="2975" stroke="#fff" stroke-width="3.2" stroke-dasharray="14 14.4"/>
<line x1="202.0" y1="2808" x2="202.0" y2="2975" stroke="#fff" stroke-width="3.2" stroke-dasharray="14 14.4"/>
</g>
<line x1="574.0" y1="2534.0" x2="574.0" y2="2978.0" stroke="#77787b" stroke-width="2.3" stroke-linecap="round" stroke-dasharray="0.01 7.55"/>
<line x1="28.0" y1="3014.0" x2="866.0" y2="3014.0" stroke="#77787b" stroke-width="2.3" stroke-linecap="round" stroke-dasharray="0.01 7.55"/>
<path d="M806.5 2628.6A85.1 85.1 0 1 1 636.4 2631.3L678.3 2631.6A43.2 43.2 0 1 0 764.7 2630.3z" fill="#80a6cc" stroke="#fff" stroke-width="2"/>
<path d="M636.4 2631.3A85.1 85.1 0 0 1 806.5 2628.6L764.7 2630.3A43.2 43.2 0 0 0 678.3 2631.6z" fill="#d3d4d6" stroke="#fff" stroke-width="2"/>
<line x1="722.4" y1="2716.0" x2="722.4" y2="2758.0" stroke="#7d7f82" stroke-width="2.0"/>
<circle cx="162.8" cy="3173.0" r="103.1" fill="#fff" stroke="#80a6cc" stroke-width="5.8"/>
<circle cx="162.8" cy="3173.0" r="93.0" fill="#80a6cc"/>
<circle cx="163.2" cy="3123.3" r="27.8" fill="#fff"/>
<path d="M110.7 3229.5V3213C110.7 3178 135 3153 163.5 3153S216.3 3178 216.3 3213V3226.5a3 3 0 0 1 -3 3H113.7a3 3 0 0 1 -3 -3z" fill="#fff"/>
<line x1="309.0" y1="3049.0" x2="309.0" y2="3490.0" stroke="#77787b" stroke-width="2.3" stroke-linecap="round" stroke-dasharray="0.01 7.55"/>
<circle cx="72" cy="3430.8" r="34.7" fill="#fff" stroke="#4f7aaa" stroke-width="4"/>
<circle cx="72" cy="3430.8" r="29.3" fill="#4f7aaa"/>
<path d="M72.2 3455.5V3406M55.5 3430.5L72.2 3404.5L89 3430.5" fill="none" stroke="#fff" stroke-width="7.2" stroke-linecap="round" stroke-linejoin="miter"/>
<line x1="333.0" y1="3266.5" x2="870.0" y2="3266.5" stroke="#77787b" stroke-width="2.3" stroke-linecap="round" stroke-dasharray="0.01 7.55"/>
<circle cx="446.8" cy="3386.9" r="103.1" fill="#fff" stroke="#80a6cc" stroke-width="5.8"/>
<circle cx="446.8" cy="3386.9" r="93.0" fill="#80a6cc"/>
<path d="M374.8 3371.9L444.4 3371.9L444.4 3390.4L421.1 3391.1L419.3 3413.3L444.4 3414.8L444.4 3431.1L374.8 3431.1L374.8 3415.6L398.9 3414.4L397.0 3391.1L374.8 3390.4z" fill="none" stroke="#fff" stroke-width="3.8" stroke-linejoin="round" stroke-linecap="round"/>
<path d="M374.8 3371.9L448.9 3343.0L515.6 3343.0L444.4 3371.9" fill="none" stroke="#fff" stroke-width="3.8" stroke-linejoin="round" stroke-linecap="round"/>
<path d="M515.6 3343.0L515.6 3359.3L444.4 3390.4" fill="none" stroke="#fff" stroke-width="3.8" stroke-linejoin="round" stroke-linecap="round"/>
<path d="M515.6 3359.3L494.1 3368.1L492.6 3381.5L515.6 3383.7L515.6 3400.0L444.4 3431.1" fill="none" stroke="#fff" stroke-width="3.8" stroke-linejoin="round" stroke-linecap="round"/>
<path d="M515.6 3383.7L444.4 3414.8" fill="none" stroke="#fff" stroke-width="3.8" stroke-linejoin="round" stroke-linecap="round"/>
<path d="M445.9 3393.3L493.3 3371.9" fill="none" stroke="#fff" stroke-width="3.8" stroke-linejoin="round" stroke-linecap="round"/>
<line x1="29.0" y1="3526.7" x2="866.0" y2="3526.7" stroke="#77787b" stroke-width="2.3" stroke-linecap="round" stroke-dasharray="0.01 7.55"/>
<circle cx="141.4" cy="3656.1" r="103.1" fill="#fff" stroke="#80a6cc" stroke-width="5.8"/>
<circle cx="141.4" cy="3656.1" r="93.0" fill="#80a6cc"/>
<circle cx="127" cy="3622" r="23" fill="#fff"/>
<path d="M83 3708.7V3697C83 3670 103 3652.5 127.2 3652.5S171.4 3670 171.4 3697V3706a2.7 2.7 0 0 1 -2.7 2.7H85.7a2.7 2.7 0 0 1 -2.7 -2.7z" fill="#fff"/>
<circle cx="180.5" cy="3651" r="15" fill="#fff"/>
<path d="M171.5 3670C176 3668.5 182 3668 187 3669.5C200 3673 208 3685 208 3699V3706a2.7 2.7 0 0 1 -2.7 2.7H178.5V3697C178.5 3687 176 3678 171.5 3670z" fill="#fff"/>
<line x1="29.0" y1="3786.5" x2="557.0" y2="3786.5" stroke="#77787b" stroke-width="2.3" stroke-linecap="round" stroke-dasharray="0.01 7.55"/>
<line x1="589.0" y1="3569.0" x2="589.0" y2="4008.0" stroke="#77787b" stroke-width="2.3" stroke-linecap="round" stroke-dasharray="0.01 7.55"/>
<circle cx="141.0" cy="3918.7" r="103.1" fill="#fff" stroke="#80a6cc" stroke-width="5.8"/>
<circle cx="141.0" cy="3918.7" r="93.0" fill="#80a6cc"/>
<path d="M127 3864.3L183.2 3958H73.5z" fill="#fff"/>
<path d="M167 3888.4L208.3 3958H191L158 3903z" fill="#fff"/>
<circle cx="731.4" cy="3656.1" r="103.1" fill="#fff" stroke="#80a6cc" stroke-width="5.8"/>
<circle cx="731.4" cy="3656.1" r="93.0" fill="#80a6cc"/>
<circle cx="731.4" cy="3628.6" r="17.8" fill="#fff"/>
<path d="M697 3701V3690C697 3668 712 3651.7 731.5 3651.7S766 3668 766 3690V3701z" fill="#fff"/>
<circle cx="685.0" cy="3655" r="11.8" fill="#fff"/>
<circle cx="777.5" cy="3655" r="11.8" fill="#fff"/>
<path d="M664 3701V3692C664 3680 672 3670 685 3670C689.5 3670 694 3671.5 697 3674C692.5 3679.5 690.5 3686 690.5 3692V3701z" fill="#fff"/>
<path d="M799 3701V3692C799 3680 791 3670 778 3670C773.5 3670 769 3671.5 766 3674C770.5 3679.5 772.5 3686 772.5 3692V3701z" fill="#fff"/>
<line x1="29.0" y1="4053.0" x2="866.0" y2="4053.0" stroke="#77787b" stroke-width="2.3" stroke-linecap="round" stroke-dasharray="0.01 7.55"/>
<circle cx="133.8" cy="4316.1" r="103.1" fill="#fff" stroke="#80a6cc" stroke-width="5.8"/>
<circle cx="133.8" cy="4316.1" r="93.0" fill="#80a6cc"/>
<polygon points="64.8,4312.2 68.5,4301.1 77.8,4284.4 90.7,4275.2 105.6,4271.5 118.5,4262.2 140.7,4255.6 148.1,4260.4 161.1,4265.9 179.6,4267.8 192.6,4280.7 205.6,4288.1 211.1,4303.0 207.4,4319.6 198.1,4328.9 185.2,4337.0 172.2,4340.7 159.3,4337.0 157.4,4351.1 150.0,4367.8 129.6,4372.6 114.8,4365.9 105.6,4353.0 90.7,4350.4 67.8,4339.3" fill="#fff"/>
<polygon points="93.7,4280.0 109.3,4277.0 118.5,4287.4 142.6,4297.4 135.2,4301.1 114.8,4295.6 105.6,4287.4 93.7,4285.2" fill="#80a6cc"/>
<polygon points="161.1,4288.1 177.8,4286.3 192.6,4283.7 179.6,4291.9 164.8,4291.1" fill="#80a6cc"/>
<polygon points="73.0,4302.2 76.7,4315.9 87.0,4327.0 111.1,4329.6 101.9,4337.0 68.5,4337.0 66.3,4315.9" fill="#80a6cc"/>
<polygon points="129.6,4323.3 144.4,4319.6 157.4,4327.0 155.6,4337.0 147.0,4328.9 138.9,4325.9" fill="#80a6cc"/>
<polygon points="172.2,4319.6 190.7,4312.2 207.4,4306.7 200.0,4323.3 187.0,4328.9 177.8,4325.9" fill="#80a6cc"/>
<polygon points="109.3,4351.1 129.6,4358.5 148.1,4354.8 157.4,4347.4 150.0,4365.9 129.6,4370.4 116.7,4364.1" fill="#80a6cc"/>
<line x1="29.0" y1="4456.5" x2="484.0" y2="4456.5" stroke="#77787b" stroke-width="2.3" stroke-linecap="round" stroke-dasharray="0.01 7.55"/>
<line x1="510.3" y1="4220.0" x2="510.3" y2="4720.0" stroke="#77787b" stroke-width="2.3" stroke-linecap="round" stroke-dasharray="0.01 7.55"/>
<circle cx="133.8" cy="4599.6" r="103.1" fill="#fff" stroke="#80a6cc" stroke-width="5.8"/>
<circle cx="133.8" cy="4599.6" r="93.0" fill="#80a6cc"/>
<path d="M 92.2 4561.0 C 100.3 4585.0 84.2 4595.7 100.3 4610.2 C 105.6 4625.2 89.6 4630.5 86.9 4646.6 C 70.8 4630.5 65.5 4611.8 73.5 4595.7 C 79.9 4583.4 88.5 4575.9 92.2 4561.0 z" fill="#fff" />
<path d="M 177.8 4542.2 C 180.5 4563.6 204.6 4577.0 195.5 4601.1 C 191.2 4613.4 180.5 4618.7 174.1 4617.1 C 172.5 4598.4 160.2 4585.0 158.0 4571.7 C 167.1 4566.3 175.2 4555.6 177.8 4542.2 z" fill="#fff" />
<path d="M 129.7 4549.2 C 136.6 4579.7 165.5 4603.8 165.5 4635.9 C 165.5 4657.3 148.4 4671.2 129.7 4671.2 C 111.0 4671.2 93.8 4657.3 93.8 4635.9 C 93.8 4603.8 122.7 4579.7 129.7 4549.2 z" fill="#80a6cc" stroke="#80a6cc" stroke-width="9"/>
<path d="M 129.7 4549.2 C 136.6 4579.7 165.5 4603.8 165.5 4635.9 C 165.5 4657.3 148.4 4671.2 129.7 4671.2 C 111.0 4671.2 93.8 4657.3 93.8 4635.9 C 93.8 4603.8 122.7 4579.7 129.7 4549.2 z" fill="#fff" />
<circle cx="700.4" cy="4311.0" r="91.8" fill="#fff" stroke="#80a6cc" stroke-width="5.4"/>
<circle cx="700.4" cy="4311.0" r="83.0" fill="#80a6cc"/>
<polygon points="654.3,4305.0 682.8,4316.8 682.8,4306.4 712.3,4317.7 712.3,4306.8 733.5,4315.9 733.5,4276.1 748.5,4276.1 748.5,4358.4 654.3,4358.4" fill="#fff"/>
<path d="M656.1 4272.4C657.0 4271.5 659.2 4268.3 661.1 4267.0C663.1 4265.7 665.6 4264.7 667.9 4264.7C670.2 4264.7 672.6 4265.6 674.7 4267.0C676.8 4268.4 678.5 4270.9 680.6 4273.3C682.6 4275.8 684.5 4279.6 686.9 4281.5C689.3 4283.4 692.3 4284.7 695.1 4284.7C697.8 4284.7 700.7 4283.4 703.2 4281.5C705.7 4279.6 707.7 4275.8 710.0 4273.3C712.3 4270.9 714.0 4268.4 716.8 4267.0C719.6 4265.6 723.6 4264.7 726.8 4264.7C729.9 4264.7 733.1 4265.6 735.8 4267.0C738.5 4268.4 741.8 4272.3 743.1 4273.3" fill="none" stroke="#fff" stroke-width="4.8" stroke-linecap="butt"/>
</svg>
<div class="t" style="left:384.7px;top:252.2px;font-size:124.7px;color:#fff;transform:scaleX(0.7926);-webkit-text-stroke:0.80px #fff">BIG</div>
<div class="t" style="left:380.9px;top:359.7px;font-size:74.5px;color:#fff;transform:scaleX(0.8766);font-weight:700;-webkit-text-stroke:1.20px #fff">DATA</div>
<div class="t" style="left:28.0px;top:680.5px;font-size:64px;color:#231f20;transform:scaleX(0.9900);font-weight:700;-webkit-text-stroke:0.70px #231f20">Economic and</div>
<div class="t" style="left:28.3px;top:752.8px;font-size:64px;color:#231f20;transform:scaleX(1.0019);font-weight:700;-webkit-text-stroke:0.70px #231f20">social development</div>
<div class="t" style="left:27.0px;top:845.8px;font-size:36px;color:#6d6e71;transform:scaleX(0.8105);font-weight:700;-webkit-text-stroke:0.70px #6d6e71">GDP GROWTH</div>
<div class="t" style="left:23.7px;top:904.3px;font-size:25px;color:#4a4b4d;transform:scaleX(0.8400);-webkit-text-stroke:0.53px #fff">15%</div>
<div class="t" style="left:23.7px;top:965.6px;font-size:25px;color:#4a4b4d;transform:scaleX(0.8400);-webkit-text-stroke:0.53px #fff">12%</div>
<div class="t" style="left:35.3px;top:1026.9px;font-size:25px;color:#4a4b4d;transform:scaleX(0.8400);-webkit-text-stroke:0.53px #fff">9%</div>
<div class="t" style="left:35.3px;top:1088.2px;font-size:25px;color:#4a4b4d;transform:scaleX(0.8400);-webkit-text-stroke:0.53px #fff">6%</div>
<div class="t" style="left:35.3px;top:1149.5px;font-size:25px;color:#4a4b4d;transform:scaleX(0.8400);-webkit-text-stroke:0.53px #fff">3%</div>
<div class="t" style="left:35.3px;top:1210.8px;font-size:25px;color:#4a4b4d;transform:scaleX(0.8400);-webkit-text-stroke:0.53px #fff">0%</div>
<div class="t" style="left:84.0px;top:901.6px;font-size:28px;color:#4a4b4d;transform:scaleX(0.8536);-webkit-text-stroke:0.59px #fff">14.2%</div>
<div class="t" style="left:356.5px;top:1127.8px;font-size:27px;color:#231f20;transform:scaleX(1.0027);font-weight:700">6.5%</div>
<div class="t" style="left:81.9px;top:1260.3px;font-size:25px;color:#4a4b4d;transform:scaleX(0.9200);-webkit-text-stroke:0.53px #fff">’07</div>
<div class="t" style="left:143.2px;top:1260.3px;font-size:25px;color:#4a4b4d;transform:scaleX(0.9200);-webkit-text-stroke:0.53px #fff">’09</div>
<div class="t" style="left:205.3px;top:1260.3px;font-size:25px;color:#4a4b4d;transform:scaleX(0.9200);-webkit-text-stroke:0.53px #fff">’11</div>
<div class="t" style="left:265.7px;top:1260.3px;font-size:25px;color:#4a4b4d;transform:scaleX(0.9200);-webkit-text-stroke:0.53px #fff">’13</div>
<div class="t" style="left:326.9px;top:1260.3px;font-size:25px;color:#4a4b4d;transform:scaleX(0.9200);-webkit-text-stroke:0.53px #fff">’15</div>
<div class="t" style="left:388.2px;top:1260.3px;font-size:25px;color:#4a4b4d;transform:scaleX(0.9200);-webkit-text-stroke:0.53px #fff">’17</div>
<div class="t" style="left:468.1px;top:845.8px;font-size:36px;color:#6d6e71;transform:scaleX(0.8735);font-weight:700;-webkit-text-stroke:0.70px #6d6e71">CPI</div>
<div class="t" style="left:479.3px;top:904.0px;font-size:25px;color:#4a4b4d;transform:scaleX(0.8400);-webkit-text-stroke:0.53px #fff">6%</div>
<div class="t" style="left:479.3px;top:947.9px;font-size:25px;color:#4a4b4d;transform:scaleX(0.8400);-webkit-text-stroke:0.53px #fff">5%</div>
<div class="t" style="left:479.3px;top:991.7px;font-size:25px;color:#4a4b4d;transform:scaleX(0.8400);-webkit-text-stroke:0.53px #fff">4%</div>
<div class="t" style="left:479.3px;top:1035.6px;font-size:25px;color:#4a4b4d;transform:scaleX(0.8400);-webkit-text-stroke:0.53px #fff">3%</div>
<div class="t" style="left:479.3px;top:1079.4px;font-size:25px;color:#4a4b4d;transform:scaleX(0.8400);-webkit-text-stroke:0.53px #fff">2%</div>
<div class="t" style="left:479.3px;top:1123.3px;font-size:25px;color:#4a4b4d;transform:scaleX(0.8400);-webkit-text-stroke:0.53px #fff">1%</div>
<div class="t" style="left:479.3px;top:1167.1px;font-size:25px;color:#4a4b4d;transform:scaleX(0.8400);-webkit-text-stroke:0.53px #fff">0%</div>
<div class="t" style="left:472.3px;top:1211.0px;font-size:25px;color:#4a4b4d;transform:scaleX(0.8400);-webkit-text-stroke:0.53px #fff">-1%</div>
<div class="t" style="left:827.5px;top:1034.8px;font-size:27px;color:#231f20;transform:scaleX(1.0329);font-weight:700">3%</div>
<div class="t" style="left:525.7px;top:1259.5px;font-size:25px;color:#4a4b4d;transform:scaleX(0.9200);-webkit-text-stroke:0.53px #fff">’07</div>
<div class="t" style="left:586.6px;top:1259.5px;font-size:25px;color:#4a4b4d;transform:scaleX(0.9200);-webkit-text-stroke:0.53px #fff">’09</div>
<div class="t" style="left:648.4px;top:1259.5px;font-size:25px;color:#4a4b4d;transform:scaleX(0.9200);-webkit-text-stroke:0.53px #fff">’11</div>
<div class="t" style="left:708.4px;top:1259.5px;font-size:25px;color:#4a4b4d;transform:scaleX(0.9200);-webkit-text-stroke:0.53px #fff">’13</div>
<div class="t" style="left:769.3px;top:1259.5px;font-size:25px;color:#4a4b4d;transform:scaleX(0.9200);-webkit-text-stroke:0.53px #fff">’15</div>
<div class="t" style="left:830.3px;top:1259.5px;font-size:25px;color:#4a4b4d;transform:scaleX(0.9200);-webkit-text-stroke:0.53px #fff">’17</div>
<div class="t" style="left:26.4px;top:1308.8px;font-size:36px;color:#6d6e71;transform:scaleX(0.8223);font-weight:700;-webkit-text-stroke:0.70px #6d6e71">UNEMPLOYMENT</div>
<div class="t" style="left:25.5px;top:1356.3px;font-size:28px;color:#4a4b4d;transform:scaleX(1.0244);-webkit-text-stroke:0.59px #fff">Urban unemployment rate</div>
<div class="t" style="left:36.4px;top:1392.6px;font-size:25px;color:#4a4b4d;transform:scaleX(0.8400);-webkit-text-stroke:0.53px #fff">5%</div>
<div class="t" style="left:36.4px;top:1450.8px;font-size:25px;color:#4a4b4d;transform:scaleX(0.8400);-webkit-text-stroke:0.53px #fff">4%</div>
<div class="t" style="left:36.4px;top:1509.0px;font-size:25px;color:#4a4b4d;transform:scaleX(0.8400);-webkit-text-stroke:0.53px #fff">3%</div>
<div class="t" style="left:36.4px;top:1567.2px;font-size:25px;color:#4a4b4d;transform:scaleX(0.8400);-webkit-text-stroke:0.53px #fff">2%</div>
<div class="t" style="left:36.4px;top:1625.4px;font-size:25px;color:#4a4b4d;transform:scaleX(0.8400);-webkit-text-stroke:0.53px #fff">1%</div>
<div class="t" style="left:36.4px;top:1683.6px;font-size:25px;color:#4a4b4d;transform:scaleX(0.8400);-webkit-text-stroke:0.53px #fff">0%</div>
<div class="t" style="left:361.7px;top:1422.1px;font-size:27px;color:#231f20;transform:scaleX(0.9930);font-weight:700">4.5%</div>
<div class="t" style="left:82.9px;top:1728.4px;font-size:25px;color:#4a4b4d;transform:scaleX(0.9200);-webkit-text-stroke:0.53px #fff">’07</div>
<div class="t" style="left:144.2px;top:1728.4px;font-size:25px;color:#4a4b4d;transform:scaleX(0.9200);-webkit-text-stroke:0.53px #fff">’09</div>
<div class="t" style="left:206.3px;top:1728.4px;font-size:25px;color:#4a4b4d;transform:scaleX(0.9200);-webkit-text-stroke:0.53px #fff">’11</div>
<div class="t" style="left:266.7px;top:1728.4px;font-size:25px;color:#4a4b4d;transform:scaleX(0.9200);-webkit-text-stroke:0.53px #fff">’13</div>
<div class="t" style="left:327.9px;top:1728.4px;font-size:25px;color:#4a4b4d;transform:scaleX(0.9200);-webkit-text-stroke:0.53px #fff">’15</div>
<div class="t" style="left:389.2px;top:1728.4px;font-size:25px;color:#4a4b4d;transform:scaleX(0.9200);-webkit-text-stroke:0.53px #fff">’17</div>
<div class="t" style="left:469.0px;top:1308.8px;font-size:36px;color:#6d6e71;transform:scaleX(0.8053);font-weight:700;-webkit-text-stroke:0.70px #6d6e71">ADDED URBAN JOBS</div>
<div class="t" style="left:467.1px;top:1355.7px;font-size:24px;color:#4a4b4d;transform:scaleX(0.9365);-webkit-text-stroke:0.50px #fff">(Unit: millions)</div>
<div class="t" style="left:468.7px;top:1392.5px;font-size:25px;color:#4a4b4d;transform:scaleX(0.8400);-webkit-text-stroke:0.53px #fff">15</div>
<div class="t" style="left:468.7px;top:1450.7px;font-size:25px;color:#4a4b4d;transform:scaleX(0.8400);-webkit-text-stroke:0.53px #fff">12</div>
<div class="t" style="left:480.4px;top:1508.9px;font-size:25px;color:#4a4b4d;transform:scaleX(0.8400);-webkit-text-stroke:0.53px #fff">9</div>
<div class="t" style="left:480.4px;top:1567.1px;font-size:25px;color:#4a4b4d;transform:scaleX(0.8400);-webkit-text-stroke:0.53px #fff">6</div>
<div class="t" style="left:480.4px;top:1625.3px;font-size:25px;color:#4a4b4d;transform:scaleX(0.8400);-webkit-text-stroke:0.53px #fff">3</div>
<div class="t" style="left:480.4px;top:1683.5px;font-size:25px;color:#4a4b4d;transform:scaleX(0.8400);-webkit-text-stroke:0.53px #fff">0</div>
<div class="t" style="left:839.0px;top:1470.4px;font-size:27px;color:#231f20;transform:scaleX(0.8210);font-weight:700">11</div>
<div class="t" style="left:527.9px;top:1727.9px;font-size:25px;color:#4a4b4d;transform:scaleX(0.9200);-webkit-text-stroke:0.53px #fff">’07</div>
<div class="t" style="left:589.0px;top:1727.9px;font-size:25px;color:#4a4b4d;transform:scaleX(0.9200);-webkit-text-stroke:0.53px #fff">’09</div>
<div class="t" style="left:651.0px;top:1727.9px;font-size:25px;color:#4a4b4d;transform:scaleX(0.9200);-webkit-text-stroke:0.53px #fff">’11</div>
<div class="t" style="left:711.2px;top:1727.9px;font-size:25px;color:#4a4b4d;transform:scaleX(0.9200);-webkit-text-stroke:0.53px #fff">’13</div>
<div class="t" style="left:772.3px;top:1727.9px;font-size:25px;color:#4a4b4d;transform:scaleX(0.9200);-webkit-text-stroke:0.53px #fff">’15</div>
<div class="t" style="left:833.4px;top:1727.9px;font-size:25px;color:#4a4b4d;transform:scaleX(0.9200);-webkit-text-stroke:0.53px #fff">’17</div>
<div class="t" style="left:26.3px;top:1778.8px;font-size:36px;color:#6d6e71;transform:scaleX(0.8288);font-weight:700;-webkit-text-stroke:0.70px #6d6e71">INDUSTRIAL ENTERPRISES</div>
<div class="t" style="left:26.3px;top:1826.0px;font-size:36px;color:#6d6e71;transform:scaleX(0.8279);font-weight:700;-webkit-text-stroke:0.70px #6d6e71">PROFIT GROWTH</div>
<div class="t" style="left:30.9px;top:1869.0px;font-size:25px;color:#4a4b4d;transform:scaleX(0.8400);-webkit-text-stroke:0.53px #fff">30%</div>
<div class="t" style="left:30.9px;top:1939.2px;font-size:25px;color:#4a4b4d;transform:scaleX(0.8400);-webkit-text-stroke:0.53px #fff">20%</div>
<div class="t" style="left:30.9px;top:2009.3px;font-size:25px;color:#4a4b4d;transform:scaleX(0.8400);-webkit-text-stroke:0.53px #fff">10%</div>
<div class="t" style="left:42.5px;top:2079.5px;font-size:25px;color:#4a4b4d;transform:scaleX(0.8400);-webkit-text-stroke:0.53px #fff">0%</div>
<div class="t" style="left:23.9px;top:2149.6px;font-size:25px;color:#4a4b4d;transform:scaleX(0.8400);-webkit-text-stroke:0.53px #fff">-10%</div>
<div class="t" style="left:98.5px;top:2192.0px;font-size:25px;color:#4a4b4d;transform:scaleX(0.9200);-webkit-text-stroke:0.53px #fff">’11</div>
<div class="t" style="left:153.9px;top:2192.0px;font-size:25px;color:#4a4b4d;transform:scaleX(0.9200);-webkit-text-stroke:0.53px #fff">’12</div>
<div class="t" style="left:210.2px;top:2192.0px;font-size:25px;color:#4a4b4d;transform:scaleX(0.9200);-webkit-text-stroke:0.53px #fff">’13</div>
<div class="t" style="left:266.0px;top:2192.0px;font-size:25px;color:#4a4b4d;transform:scaleX(0.9200);-webkit-text-stroke:0.53px #fff">’14</div>
<div class="t" style="left:322.8px;top:2192.0px;font-size:25px;color:#4a4b4d;transform:scaleX(0.9200);-webkit-text-stroke:0.53px #fff">’15</div>
<div class="t" style="left:379.1px;top:2192.0px;font-size:25px;color:#4a4b4d;transform:scaleX(0.9200);-webkit-text-stroke:0.53px #fff">’16</div>
<div class="t" style="left:361.5px;top:2003.6px;font-size:27px;color:#231f20;transform:scaleX(1.0222);font-weight:700">8.5%</div>
<div class="t" style="left:467.4px;top:1778.8px;font-size:36px;color:#6d6e71;transform:scaleX(0.7968);font-weight:700;-webkit-text-stroke:0.70px #6d6e71">ENERGY USE</div>
<div class="t" style="left:466.9px;top:1827.0px;font-size:27.2px;color:#4a4b4d;transform:scaleX(1.0676);-webkit-text-stroke:0.57px #fff">Percent of energy consumption</div>
<div class="t" style="left:468.0px;top:1856.5px;font-size:27.2px;color:#4a4b4d;transform:scaleX(1.0430);-webkit-text-stroke:0.57px #fff">(tons of coal) per unit of GDP</div>
<div class="t" style="left:465.2px;top:1895.7px;font-size:25px;color:#4a4b4d;transform:scaleX(0.8400);-webkit-text-stroke:0.53px #fff">15%</div>
<div class="t" style="left:465.2px;top:1939.7px;font-size:25px;color:#4a4b4d;transform:scaleX(0.8400);-webkit-text-stroke:0.53px #fff">12%</div>
<div class="t" style="left:476.8px;top:1983.7px;font-size:25px;color:#4a4b4d;transform:scaleX(0.8400);-webkit-text-stroke:0.53px #fff">9%</div>
<div class="t" style="left:476.8px;top:2027.7px;font-size:25px;color:#4a4b4d;transform:scaleX(0.8400);-webkit-text-stroke:0.53px #fff">6%</div>
<div class="t" style="left:476.8px;top:2071.7px;font-size:25px;color:#4a4b4d;transform:scaleX(0.8400);-webkit-text-stroke:0.53px #fff">3%</div>
<div class="t" style="left:476.8px;top:2115.7px;font-size:25px;color:#4a4b4d;transform:scaleX(0.8400);-webkit-text-stroke:0.53px #fff">0%</div>
<div class="t" style="left:542.0px;top:2164.3px;font-size:25px;color:#4a4b4d;transform:scaleX(0.9200);-webkit-text-stroke:0.53px #fff">’11</div>
<div class="t" style="left:589.4px;top:2164.3px;font-size:25px;color:#4a4b4d;transform:scaleX(0.9200);-webkit-text-stroke:0.53px #fff">’12</div>
<div class="t" style="left:637.7px;top:2164.3px;font-size:25px;color:#4a4b4d;transform:scaleX(0.9200);-webkit-text-stroke:0.53px #fff">’13</div>
<div class="t" style="left:685.5px;top:2164.3px;font-size:25px;color:#4a4b4d;transform:scaleX(0.9200);-webkit-text-stroke:0.53px #fff">’14</div>
<div class="t" style="left:734.3px;top:2164.3px;font-size:25px;color:#4a4b4d;transform:scaleX(0.9200);-webkit-text-stroke:0.53px #fff">’15</div>
<div class="t" style="left:782.6px;top:2164.3px;font-size:25px;color:#4a4b4d;transform:scaleX(0.9200);-webkit-text-stroke:0.53px #fff">’16</div>
<div class="t" style="left:830.9px;top:2164.3px;font-size:25px;color:#4a4b4d;transform:scaleX(0.9200);-webkit-text-stroke:0.53px #fff">’17</div>
<div class="t" style="left:806.8px;top:2015.1px;font-size:27px;color:#231f20;transform:scaleX(0.9848);font-weight:700">3.4%</div>
<div class="t" style="left:469.9px;top:2196.8px;font-size:25px;color:#4a4b4d;transform:scaleX(0.8224);-webkit-text-stroke:0.53px #fff">Note: One unit of GDP equals 10,000 yuan</div>
<div class="t" style="left:27.5px;top:2249.0px;font-size:36px;color:#6d6e71;transform:scaleX(0.7373);font-weight:700;-webkit-text-stroke:0.70px #6d6e71">BUSINESS GROWTH</div>
<div class="t" style="left:27.8px;top:2295.2px;font-size:27.6px;color:#141213;transform:scaleX(1.0364);-webkit-text-stroke:0.58px #fff">Number of newly</div>
<div class="t" style="left:73.0px;top:2326.3px;font-size:28px;color:#141213;transform:scaleX(1.0235);-webkit-text-stroke:0.59px #fff">registered</div>
<div class="t" style="left:34.0px;top:2357.0px;font-size:28px;color:#141213;transform:scaleX(1.0002);-webkit-text-stroke:0.59px #fff">businesses rose</div>
<div class="t" style="left:40.9px;top:2396.0px;font-size:79.5px;color:#4f7aaa;transform:scaleX(0.8430)">24.5%</div>
<div class="t" style="left:335.3px;top:2295.3px;font-size:28px;color:#141213;transform:scaleX(0.9642);-webkit-text-stroke:0.59px #fff">Average of</div>
<div class="t" style="left:304.2px;top:2325.5px;font-size:79.5px;color:#4f7aaa;transform:scaleX(0.8436)">15,000</div>
<div class="t" style="left:301.0px;top:2406.3px;font-size:28px;color:#141213;transform:scaleX(0.9923);-webkit-text-stroke:0.59px #fff">new businesses</div>
<div class="t" style="left:370.0px;top:2436.7px;font-size:28px;color:#141213;transform:scaleX(0.9843);-webkit-text-stroke:0.59px #fff">daily</div>
<div class="t" style="left:617.0px;top:2287.1px;font-size:79px;color:#4f7aaa;transform:scaleX(0.8923)">45,000</div>
<div class="t" style="left:587.0px;top:2364.3px;font-size:28px;color:#141213;transform:scaleX(1.0317);-webkit-text-stroke:0.59px #fff">new market entities</div>
<div class="t" style="left:596.8px;top:2396.3px;font-size:28px;color:#141213;transform:scaleX(1.0112);-webkit-text-stroke:0.59px #fff">registered per day</div>
<div class="t" style="left:559.7px;top:2428.9px;font-size:28px;color:#141213;transform:scaleX(1.0388);-webkit-text-stroke:0.59px #fff">including self-employed</div>
<div class="t" style="left:595.6px;top:2460.7px;font-size:28px;color:#141213;transform:scaleX(1.0140);-webkit-text-stroke:0.59px #fff">traders and others</div>
<div class="t" style="left:294.0px;top:2537.7px;font-size:28px;color:#141213;transform:scaleX(1.0204);-webkit-text-stroke:0.59px #fff">More than</div>
<div class="t" style="left:290.9px;top:2562.1px;font-size:79px;color:#4f7aaa;transform:scaleX(0.8572)">1,900</div>
<div class="t" style="left:293.7px;top:2646.6px;font-size:28px;color:#141213;transform:scaleX(1.0051);-webkit-text-stroke:0.59px #fff"><b>kilometers</b> of new</div>
<div class="t" style="left:293.7px;top:2677.0px;font-size:28px;color:#141213;transform:scaleX(1.0072);-webkit-text-stroke:0.59px #fff">high-speed rail lines</div>
<div class="t" style="left:293.7px;top:2708.0px;font-size:28px;color:#141213;transform:scaleX(1.0278);-webkit-text-stroke:0.59px #fff">came into service</div>
<div class="t" style="left:294.0px;top:2786.3px;font-size:28px;color:#141213;transform:scaleX(1.0204);-webkit-text-stroke:0.59px #fff">More than</div>
<div class="t" style="left:292.1px;top:2810.4px;font-size:79px;color:#4f7aaa;transform:scaleX(0.8508)">6,700</div>
<div class="t" style="left:293.7px;top:2895.6px;font-size:28px;color:#141213;transform:scaleX(1.0322);-webkit-text-stroke:0.59px #fff"><b>kilometers</b> of</div>
<div class="t" style="left:293.7px;top:2926.8px;font-size:28px;color:#141213;transform:scaleX(0.9937);-webkit-text-stroke:0.59px #fff">expressways were</div>
<div class="t" style="left:293.7px;top:2957.0px;font-size:28px;color:#141213;transform:scaleX(1.0406);-webkit-text-stroke:0.59px #fff">built or upgraded</div>
<div class="t" style="left:696.2px;top:2618.0px;font-size:27.8px;color:#6d6e71;transform:scaleX(0.8382);font-weight:700;-webkit-text-stroke:0.70px #6d6e71">GDP</div>
<div class="t" style="left:627.5px;top:2765.6px;font-size:28px;color:#141213;transform:scaleX(1.0141);-webkit-text-stroke:0.59px #fff">Value created by</div>
<div class="t" style="left:627.5px;top:2796.6px;font-size:28px;color:#141213;transform:scaleX(1.0406);-webkit-text-stroke:0.59px #fff">the service</div>
<div class="t" style="left:627.5px;top:2827.3px;font-size:28px;color:#141213;transform:scaleX(1.0500);-webkit-text-stroke:0.59px #fff">sector rose to</div>
<div class="t" style="left:631.4px;top:2862.1px;font-size:79px;color:#4f7aaa;transform:scaleX(0.8055)">51.6%</div>
<div class="t" style="left:661.0px;top:2946.0px;font-size:26px;color:#80a6cc;transform:scaleX(1.0231);font-weight:700">OF GDP</div>
<div class="t" style="left:38.4px;top:3295.8px;font-size:28px;color:#141213;transform:scaleX(1.0093);-webkit-text-stroke:0.59px #fff">Personal per capita</div>
<div class="t" style="left:39.4px;top:3327.1px;font-size:28px;color:#141213;transform:scaleX(1.0228);-webkit-text-stroke:0.59px #fff">disposable income</div>
<div class="t" style="left:39.4px;top:3356.6px;font-size:28px;color:#141213;transform:scaleX(1.0117);-webkit-text-stroke:0.59px #fff">increased by</div>
<div class="t" style="left:112.5px;top:3392.7px;font-size:79.5px;color:#4f7aaa;transform:scaleX(0.8767)">6.3%</div>
<div class="t" style="left:333.3px;top:3069.3px;font-size:28px;color:#141213;transform:scaleX(0.9740);-webkit-text-stroke:0.59px #fff">Tax burdens were</div>
<div class="t" style="left:332.3px;top:3100.7px;font-size:28px;color:#141213;transform:scaleX(0.9888);-webkit-text-stroke:0.59px #fff">reduced in every sector.</div>
<div class="t" style="left:333.3px;top:3132.2px;font-size:28px;color:#141213;transform:scaleX(0.9779);-webkit-text-stroke:0.59px #fff">The tax burden on</div>
<div class="t" style="left:332.3px;top:3163.7px;font-size:28px;color:#141213;transform:scaleX(0.9831);-webkit-text-stroke:0.59px #fff">business in the past year</div>
<div class="t" style="left:334.3px;top:3195.2px;font-size:28px;color:#141213;transform:scaleX(0.9723);-webkit-text-stroke:0.59px #fff">was slashed by more than</div>
<div class="t" style="left:671.5px;top:3063.0px;font-size:141px;color:#4f7aaa;transform:scaleX(0.8637);-webkit-text-stroke:1.40px #fff">570</div>
<div class="t" style="left:672.0px;top:3195.3px;font-size:28px;color:#80a6cc;transform:scaleX(1.0006);font-weight:700">BILLION YUAN</div>
<div class="t" style="left:586.9px;top:3303.9px;font-size:28px;color:#141213;transform:scaleX(1.0511);-webkit-text-stroke:0.59px #fff">Steel production</div>
<div class="t" style="left:587.0px;top:3335.3px;font-size:28px;color:#141213;transform:scaleX(1.0229);-webkit-text-stroke:0.59px #fff">capacity will be</div>
<div class="t" style="left:588.0px;top:3366.3px;font-size:28px;color:#141213;transform:scaleX(1.0572);-webkit-text-stroke:0.59px #fff">further cut by around</div>
<div class="t" style="left:573.7px;top:3401.7px;font-size:79.5px;color:#4f7aaa;transform:scaleX(0.9193)">50</div>
<div class="t" style="left:664.3px;top:3415.3px;font-size:28px;color:#80a6cc;transform:scaleX(1.0384);font-weight:700">MILLION</div>
<div class="t" style="left:664.3px;top:3445.3px;font-size:28px;color:#80a6cc;transform:scaleX(1.0183);font-weight:700">METRIC TONS</div>
<div class="t" style="left:274.5px;top:3561.3px;font-size:28px;color:#141213;transform:scaleX(1.0065);-webkit-text-stroke:0.59px #fff">The number of</div>
<div class="t" style="left:273.5px;top:3593.8px;font-size:28px;color:#141213;transform:scaleX(1.0105);-webkit-text-stroke:0.59px #fff"><b>people living in</b></div>
<div class="t" style="left:273.5px;top:3624.8px;font-size:28px;color:#141213;transform:scaleX(1.0080);-webkit-text-stroke:0.59px #fff"><b>poverty</b> in rural areas</div>
<div class="t" style="left:275.5px;top:3655.3px;font-size:28px;color:#141213;transform:scaleX(0.9881);-webkit-text-stroke:0.59px #fff">was <b>reduced by</b></div>
<div class="t" style="left:270.3px;top:3681.6px;font-size:79px;color:#4f7aaa;transform:scaleX(0.7228)">12.4</div>
<div class="t" style="left:393.9px;top:3725.2px;font-size:27.5px;color:#80a6cc;transform:scaleX(1.0783);font-weight:700">MILLION</div>
<div class="t" style="left:270.7px;top:3830.0px;font-size:79px;color:#4f7aaa;transform:scaleX(0.7503)">3.4</div>
<div class="t" style="left:365.6px;top:3873.6px;font-size:27.5px;color:#80a6cc;transform:scaleX(1.0683);font-weight:700">MILLION</div>
<div class="t" style="left:273.0px;top:3915.8px;font-size:28px;color:#141213;transform:scaleX(1.0237);-webkit-text-stroke:0.59px #fff">people in poverty will</div>
<div class="t" style="left:273.0px;top:3946.3px;font-size:28px;color:#141213;transform:scaleX(1.0159);-webkit-text-stroke:0.59px #fff">be relocated from</div>
<div class="t" style="left:273.0px;top:3977.0px;font-size:28px;color:#141213;transform:scaleX(1.0208);-webkit-text-stroke:0.59px #fff">remote areas.</div>
<div class="t" style="left:626.8px;top:3774.3px;font-size:28px;color:#141213;transform:scaleX(1.0065);-webkit-text-stroke:0.59px #fff">The number of</div>
<div class="t" style="left:625.3px;top:3805.3px;font-size:28px;color:#141213;transform:scaleX(1.0231);-webkit-text-stroke:0.59px #fff"><b>rural residents</b></div>
<div class="t" style="left:625.3px;top:3834.8px;font-size:28px;color:#141213;transform:scaleX(1.0092);-webkit-text-stroke:0.59px #fff"><b>living in poverty</b></div>
<div class="t" style="left:627.3px;top:3865.3px;font-size:28px;color:#141213;transform:scaleX(1.0366);-webkit-text-stroke:0.59px #fff">will be further</div>
<div class="t" style="left:625.3px;top:3897.3px;font-size:28px;color:#141213;transform:scaleX(1.0072);-webkit-text-stroke:0.59px #fff">reduced by at least</div>
<div class="t" style="left:645.0px;top:3935.1px;font-size:79px;color:#4f7aaa;transform:scaleX(0.8298)">10</div>
<div class="t" style="left:724.1px;top:3978.7px;font-size:27.5px;color:#80a6cc;transform:scaleX(1.0692);font-weight:700">MILLION</div>
<div class="t" style="left:28.1px;top:4085.6px;font-size:52px;color:#231f20;transform:scaleX(0.9717);font-weight:700;-webkit-text-stroke:0.60px #231f20">Effective strengthening of</div>
<div class="t" style="left:28.0px;top:4135.4px;font-size:52px;color:#231f20;transform:scaleX(0.9792);font-weight:700;-webkit-text-stroke:0.60px #231f20">environmental protection</div>
<div class="t" style="left:256.5px;top:4225.7px;font-size:28px;color:#141213;transform:scaleX(1.0190);-webkit-text-stroke:0.59px #fff">At least <b>150</b></div>
<div class="t" style="left:255.4px;top:4255.3px;font-size:28px;color:#141213;transform:scaleX(1.0578);-webkit-text-stroke:0.59px #fff"><b>million metric</b></div>
<div class="t" style="left:256.5px;top:4286.3px;font-size:28px;color:#141213;transform:scaleX(1.0091);-webkit-text-stroke:0.59px #fff"><b>tons</b> of coal</div>
<div class="t" style="left:255.4px;top:4317.8px;font-size:28px;color:#141213;transform:scaleX(1.1039);-webkit-text-stroke:0.59px #fff">production</div>
<div class="t" style="left:256.5px;top:4348.8px;font-size:28px;color:#141213;transform:scaleX(1.0331);-webkit-text-stroke:0.59px #fff">facilities are to</div>
<div class="t" style="left:255.5px;top:4379.1px;font-size:28px;color:#141213;transform:scaleX(1.0011);-webkit-text-stroke:0.59px #fff">be closed.</div>
<div class="t" style="left:269.0px;top:4521.3px;font-size:28px;color:#141213;transform:scaleX(0.9777);-webkit-text-stroke:0.59px #fff">Closure of</div>
<div class="t" style="left:269.0px;top:4552.3px;font-size:28px;color:#141213;transform:scaleX(1.0329);-webkit-text-stroke:0.59px #fff">enterprises</div>
<div class="t" style="left:270.0px;top:4582.9px;font-size:28px;color:#141213;transform:scaleX(1.0244);-webkit-text-stroke:0.59px #fff">failing to meet</div>
<div class="t" style="left:269.0px;top:4614.3px;font-size:28px;color:#141213;transform:scaleX(1.0014);-webkit-text-stroke:0.59px #fff">discharge</div>
<div class="t" style="left:270.0px;top:4645.1px;font-size:28px;color:#141213;transform:scaleX(1.0345);-webkit-text-stroke:0.59px #fff">standards under</div>
<div class="t" style="left:270.0px;top:4676.3px;font-size:28px;color:#141213;transform:scaleX(0.9676);-webkit-text-stroke:0.59px #fff">the law</div>
<div class="t" style="left:554.4px;top:4421.9px;font-size:28px;color:#373536;transform:scaleX(0.9948);-webkit-text-stroke:0.59px #fff">This year, China plans</div>
<div class="t" style="left:554.4px;top:4453.2px;font-size:28px;color:#373536;transform:scaleX(1.0378);-webkit-text-stroke:0.59px #fff">to cut both <b>sulfur</b></div>
<div class="t" style="left:553.4px;top:4484.5px;font-size:28px;color:#373536;transform:scaleX(1.0196);-webkit-text-stroke:0.59px #fff"><b>dioxide and nitrogen</b></div>
<div class="t" style="left:553.4px;top:4515.8px;font-size:28px;color:#373536;transform:scaleX(0.9983);-webkit-text-stroke:0.59px #fff"><b>oxide emissions by</b></div>
<div class="t" style="left:554.4px;top:4547.1px;font-size:28px;color:#373536;transform:scaleX(1.0279);-webkit-text-stroke:0.59px #fff"><b>3 percent</b> and to</div>
<div class="t" style="left:553.4px;top:4578.3px;font-size:28px;color:#373536;transform:scaleX(1.0312);-webkit-text-stroke:0.59px #fff">markedly reduce fine</div>
<div class="t" style="left:553.3px;top:4609.6px;font-size:28px;color:#373536;transform:scaleX(1.1005);-webkit-text-stroke:0.59px #fff">particulate matter</div>
<div class="t" style="left:553.4px;top:4640.8px;font-size:28px;color:#373536;transform:scaleX(1.0232);-webkit-text-stroke:0.59px #fff">(PM2.5) density in key</div>
<div class="t" style="left:553.4px;top:4672.1px;font-size:28px;color:#373536;transform:scaleX(0.9741);-webkit-text-stroke:0.59px #fff">areas.</div>
<div class="t" style="left:744.5px;top:4723.4px;font-size:20px;color:#58595b;transform:scaleX(0.9734);-webkit-text-stroke:0.42px #fff">CHINA DAILY</div>
</body></html>
